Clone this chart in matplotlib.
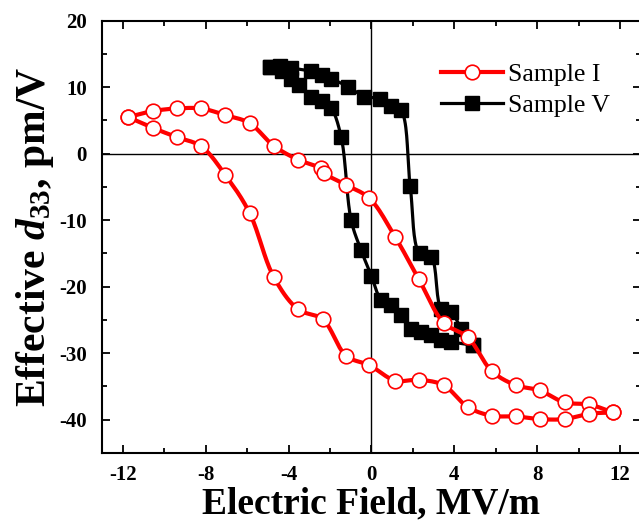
import matplotlib.pyplot as plt
import numpy as np

plt.rcParams['font.family'] = ['Liberation Serif', 'DejaVu Serif']
plt.rcParams['mathtext.fontset'] = 'custom'
plt.rcParams['mathtext.rm'] = 'Liberation Serif:bold'
plt.rcParams['mathtext.it'] = 'Liberation Serif:italic:bold'
plt.rcParams['mathtext.bf'] = 'Liberation Serif:bold'
plt.rcParams['axes.unicode_minus'] = False

# Sample I - upper branch and lower branch (both run from -12 to +12 MV/m)
field_i_up = [-11.74, -10.56, -9.4, -8.21, -7.05, -5.88, -4.72, -3.54, -2.45, -2.3,
              -1.22, -0.1, 1.14, 2.29, 3.48, 4.65, 5.81, 6.96, 8.12, 9.32, 10.5, 11.66]
d33_i_up = [5.5, 6.4, 6.8, 6.8, 5.8, 4.6, 1.2, -0.9, -2.2, -2.9,
            -4.7, -6.7, -12.5, -18.9, -25.4, -27.6, -32.7, -34.8, -35.6, -37.4, -37.7, -38.9]
field_i_down = [-11.74, -10.56, -9.4, -8.21, -7.05, -5.88, -4.72, -3.54, -2.35, -1.22,
                -0.1, 1.14, 2.29, 3.48, 4.65, 5.81, 6.96, 8.12, 9.32, 10.5, 11.66]
d33_i_down = [5.5, 3.9, 2.5, 1.1, -3.2, -8.9, -18.5, -23.4, -24.9, -30.4,
              -31.8, -34.1, -34.0, -34.8, -38.1, -39.4, -39.5, -39.9, -39.9, -39.1, -38.9]

# Sample V
field_v_up = [-4.9, -4.4, -3.9, -2.9, -2.4, -1.95, -1.14, -0.34, 0.39, 0.95, 1.43,
              1.87, 2.32, 2.88, 3.37, 3.85, 4.33, 4.9]
d33_v_up = [13.1, 13.2, 12.9, 12.4, 11.9, 11.3, 10.1, 8.6, 8.3, 7.1, 6.5,
            -4.9, -15.0, -15.5, -23.3, -23.8, -26.3, -28.8]
field_v_down = [-4.9, -4.3, -3.9, -3.5, -2.9, -2.4, -1.95, -1.46, -0.98, -0.5, 0.0,
                0.47, 0.95, 1.43, 1.92, 2.4, 2.88, 3.37, 3.85, 4.9]
d33_v_down = [13.1, 12.4, 11.2, 10.4, 8.6, 7.9, 6.9, 2.5, -10.0, -14.5, -18.4,
              -22.0, -22.8, -24.3, -26.3, -26.8, -27.3, -28.0, -28.3, -28.8]


def smooth(x, y, n=20):
    # centripetal Catmull-Rom curve through the points (only for drawing the line)
    sx, sy = 20.7, 6.63
    p = np.column_stack([np.asarray(x) * sx, np.asarray(y) * sy])
    p = np.vstack([2 * p[0] - p[1], p, 2 * p[-1] - p[-2]])
    out = []
    for i in range(1, len(p) - 2):
        p0, p1, p2, p3 = p[i - 1], p[i], p[i + 1], p[i + 2]
        t0 = 0.0
        t1 = t0 + np.linalg.norm(p1 - p0) ** 0.5 + 1e-6
        t2 = t1 + np.linalg.norm(p2 - p1) ** 0.5 + 1e-6
        t3 = t2 + np.linalg.norm(p3 - p2) ** 0.5 + 1e-6
        t = np.linspace(t1, t2, n)[:, None]
        a1 = (t1 - t) / (t1 - t0) * p0 + (t - t0) / (t1 - t0) * p1
        a2 = (t2 - t) / (t2 - t1) * p1 + (t - t1) / (t2 - t1) * p2
        a3 = (t3 - t) / (t3 - t2) * p2 + (t - t2) / (t3 - t2) * p3
        b1 = (t2 - t) / (t2 - t0) * a1 + (t - t0) / (t2 - t0) * a2
        b2 = (t3 - t) / (t3 - t1) * a2 + (t - t1) / (t3 - t1) * a3
        c = (t2 - t) / (t2 - t1) * b1 + (t - t1) / (t2 - t1) * b2
        out.append(c)
    out = np.vstack(out)
    return out[:, 0] / sx, out[:, 1] / sy


fig = plt.figure(figsize=(6.39, 5.24), dpi=100)
ax = fig.add_axes([0.1596, 0.1355, 0.8434, 0.825])

ax.axhline(0, color='black', lw=1.0, zorder=1)
ax.axvline(0, color='black', lw=1.0, zorder=1)

for fx, dy in [(field_v_up, d33_v_up), (field_v_down, d33_v_down)]:
    sx_, sy_ = smooth(fx, dy)
    ax.plot(sx_, sy_, color='black', lw=2.3, zorder=2)
    ax.plot(fx, dy, ls='none', marker='s', ms=10, color='black', zorder=3)

for fx, dy in [(field_i_up, d33_i_up), (field_i_down, d33_i_down)]:
    sx_, sy_ = smooth(fx, dy)
    ax.plot(sx_, sy_, color='red', lw=3.0, zorder=4)
    ax.plot(fx, dy, ls='none', marker='o', ms=10.5, mfc='white', mec='red',
            mew=1.2, zorder=5)

h1, = ax.plot([], [], color='red', lw=3.0, marker='o', ms=10.5, mfc='white',
              mec='red', mew=1.2, label='Sample I')
h2, = ax.plot([], [], color='black', lw=2.3, marker='s', ms=10, label='Sample V')
ax.legend(handles=[h1, h2], loc='upper left', bbox_to_anchor=(0.61, 0.925),
          frameon=False, fontsize=18.5, handlelength=2.4, handletextpad=0.2,
          labelspacing=0.3, borderaxespad=0)

ax.set_xlim(-13, 13)
ax.set_ylim(-45, 20)
ax.set_xticks([-12, -8, -4, 0, 4, 8, 12])
ax.set_xticks([-10, -6, -2, 2, 6, 10], minor=True)
ax.set_yticks([20, 10, 0, -10, -20, -30, -40])
ax.set_yticks([15, 5, -5, -15, -25, -35, -45], minor=True)
ax.tick_params(which='both', direction='in', top=True, right=True, width=1.3)
ax.tick_params(which='major', length=6, labelsize=15)
ax.tick_params(axis='y', which='major', pad=11)
ax.tick_params(axis='x', which='major', pad=9)
ax.tick_params(which='minor', length=3.5)
for lab in ax.get_xticklabels() + ax.get_yticklabels():
    lab.set_fontweight('bold')
for s in ax.spines.values():
    s.set_linewidth(1.5)

ax.set_xlabel('Electric Field, MV/m', fontsize=27, fontweight='bold', labelpad=1)
ax.set_ylabel('Effective $d_{33}$, pm/V', fontsize=30, fontweight='bold', labelpad=2)

fig.savefig('out.png', dpi=100)
